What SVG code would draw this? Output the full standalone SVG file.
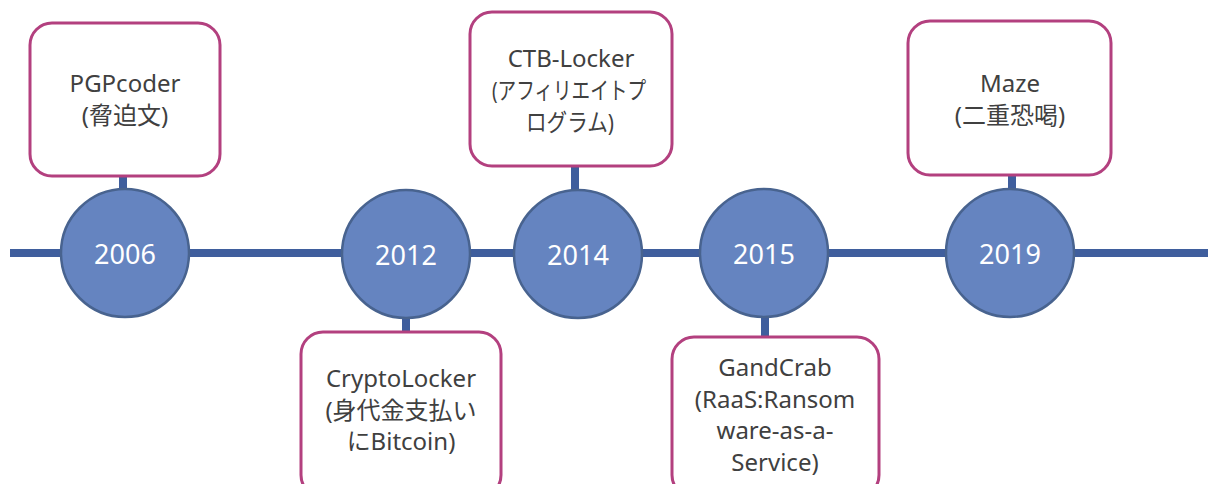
<svg xmlns="http://www.w3.org/2000/svg" width="1208" height="484" viewBox="0 0 1208 484">
<style>
.ev{fill:#ffffff;stroke:#B3407F;stroke-width:3}
.yr{fill:#6584C0;stroke:#48638F;stroke-width:2.5}
.yt{font-family:"Noto Sans","Open Sans","Noto Sans CJK JP",sans-serif;font-size:27px;fill:#ffffff;text-anchor:middle;dominant-baseline:central}
.lb{font-family:"Noto Sans","Open Sans","Noto Sans CJK JP",sans-serif;font-size:24px;fill:#404040;text-anchor:middle}
.ln{stroke:#3F5E9D;stroke-width:8;fill:none}
</style>
<rect width="1208" height="484" fill="#ffffff"/>
<g id="connectors">
<line class="ln" x1="10" y1="253" x2="1208" y2="253"/>
<line class="ln" x1="123" y1="176" x2="123" y2="192"/>
<line class="ln" x1="406" y1="314" x2="406" y2="333"/>
<line class="ln" x1="575" y1="166" x2="575" y2="192"/>
<line class="ln" x1="765" y1="314" x2="765" y2="338"/>
<line class="ln" x1="1012" y1="174" x2="1012" y2="192"/>
</g>
<g id="y2006"><circle class="yr" cx="125" cy="253" r="64"/><text class="yt" x="125" y="253">2006</text></g>
<g id="y2012"><circle class="yr" cx="406" cy="254" r="64"/><text class="yt" x="406" y="254">2012</text></g>
<g id="y2014"><circle class="yr" cx="578" cy="254" r="64"/><text class="yt" x="578" y="254">2014</text></g>
<g id="y2015"><circle class="yr" cx="764" cy="253" r="64"/><text class="yt" x="764" y="253">2015</text></g>
<g id="y2019"><circle class="yr" cx="1010" cy="253" r="64"/><text class="yt" x="1010" y="253">2019</text></g>
<g id="pgpcoder"><rect class="ev" x="30" y="23" width="190" height="153" rx="22"/>
<text class="lb" x="125" y="92">PGPcoder</text><text class="lb" x="125" y="124">(脅迫文)</text></g>
<g id="cryptolocker"><rect class="ev" x="301" y="332" width="200" height="165" rx="22"/>
<text class="lb" x="401" y="387">CryptoLocker</text><text class="lb" x="401" y="419">(身代金支払い</text><text class="lb" x="401" y="450">にBitcoin)</text></g>
<g id="ctblocker"><rect class="ev" x="470" y="12" width="202" height="154" rx="22"/>
<text class="lb" x="571" y="67">CTB-Locker</text><text class="lb" x="569" y="99" textLength="154" lengthAdjust="spacingAndGlyphs">(アフィリエイトプ</text><text class="lb" x="570" y="131" textLength="88" lengthAdjust="spacingAndGlyphs">ログラム)</text></g>
<g id="gandcrab"><rect class="ev" x="672" y="337" width="207" height="160" rx="22"/>
<text class="lb" x="775" y="376">GandCrab</text><text class="lb" x="775" y="408">(RaaS:Ransom</text><text class="lb" x="775" y="439">ware-as-a-</text><text class="lb" x="775" y="471">Service)</text></g>
<g id="maze"><rect class="ev" x="908" y="21" width="203" height="154" rx="22"/>
<text class="lb" x="1010" y="92">Maze</text><text class="lb" x="1010" y="124">(二重恐喝)</text></g>
</svg>
